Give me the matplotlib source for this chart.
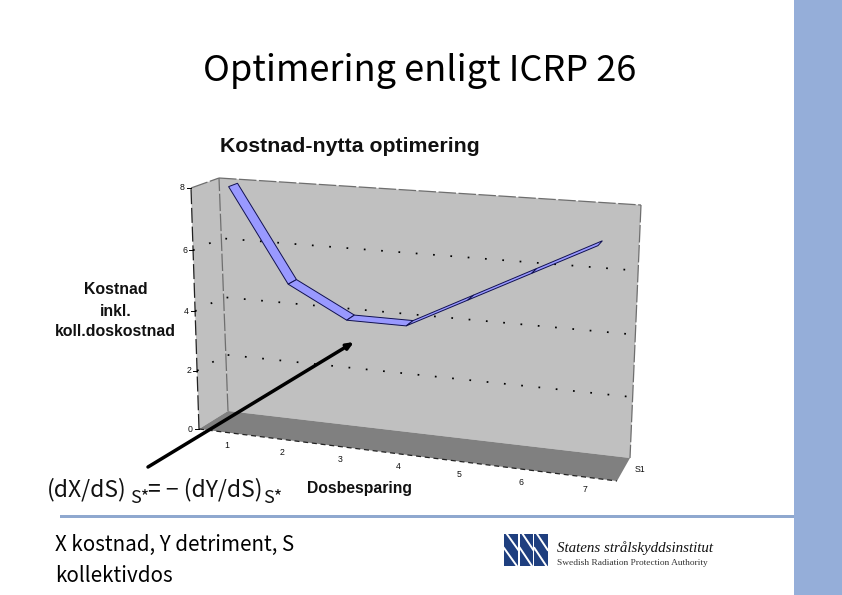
import numpy as np
import matplotlib
matplotlib.use("Agg")
import matplotlib.pyplot as plt
from matplotlib.patches import Polygon, Rectangle

categories = [1, 2, 3, 4, 5, 6, 7]
values = [8, 5, 4, 4, 5, 6, 7]
y_ticks = [0, 2, 4, 6, 8]
series_name = "S1"
Y_MAX = 8

GOTHIC = "Noto Sans CJK JP"
SANS = "Liberation Sans"
SERIF = "Liberation Serif"


def homography(quad):
    """Unit square -> (bl, br, tr, tl) pixel quad."""
    src = [(0, 0), (1, 0), (1, 1), (0, 1)]
    A, b = [], []
    for (u, v), (x, y) in zip(src, quad):
        A.append([u, v, 1, 0, 0, 0, -u * x, -v * x]); b.append(x)
        A.append([0, 0, 0, u, v, 1, -u * y, -v * y]); b.append(y)
    h = np.linalg.solve(np.array(A, float), np.array(b, float))
    return np.append(h, 1).reshape(3, 3)


H_FRONT = homography([(199, 429), (617, 481), (629, 219), (191, 188)])
H_BACK = homography([(228, 411), (630, 458), (641, 205), (219, 178)])


def project(cat, val, depth):
    """Category position (0.5..n+0.5), value, depth (0 front..1 back) -> pixel."""
    u = (cat - 0.5) / len(categories)
    v = val / Y_MAX
    pts = []
    for H in (H_FRONT, H_BACK):
        p = H @ np.array([u, v, 1.0])
        pts.append(p[:2] / p[2])
    return tuple(pts[0] * (1 - depth) + pts[1] * depth)


fig = plt.figure(figsize=(8.42, 5.95), dpi=100, facecolor="white")
ax = fig.add_axes([0, 0, 1, 1])
ax.set_xlim(0, 842)
ax.set_ylim(595, 0)
ax.axis("off")

# Slide furniture
ax.add_patch(Rectangle((794, 0), 48, 595, fc="#95AED9", ec="none"))
ax.add_patch(Rectangle((60, 514.5), 734, 3.5, fc="#8FA8CF", ec="none"))

L, R = 0.5, len(categories) + 0.5
# Walls and floor
ax.add_patch(Polygon([project(L, 0, 1), project(R, 0, 1), project(R, Y_MAX, 1), project(L, Y_MAX, 1)],
                     fc="#C0C0C0", ec="none", zorder=1))
ax.add_patch(Polygon([project(L, 0, 0), project(L, 0, 1), project(L, Y_MAX, 1), project(L, Y_MAX, 0)],
                     fc="#C0C0C0", ec="none", zorder=1))
ax.add_patch(Polygon([project(L, 0, 0), project(R, 0, 0), project(R, 0, 1), project(L, 0, 1)],
                     fc="#808080", ec="none", zorder=1))


def seg(a, b, **kw):
    ax.plot([a[0], b[0]], [a[1], b[1]], solid_capstyle="butt", **kw)


dash = dict(color="#6E6E6E", lw=0.9, ls=(0, (14, 2)), zorder=2)
seg(project(L, 0, 1), project(L, Y_MAX, 1), **dash)
seg(project(L, Y_MAX, 0), project(L, Y_MAX, 1), **dash)
seg(project(L, Y_MAX, 1), project(R, Y_MAX, 1), **dash)
seg(project(R, Y_MAX, 1), project(R, 0, 1), **dash)
seg(project(L, 0, 0), project(L, Y_MAX, 0), color="#222222", lw=0.9, ls=(0, (12, 3)), zorder=2)
seg(project(L, 0, 0), project(R, 0, 0), color="#222222", lw=0.9, ls=(0, (4, 3)), zorder=2)

# Gridlines
for t in y_ticks[1:-1]:
    a, b, c = project(L, t, 0), project(L, t, 1), project(R, t, 1)
    ax.plot([a[0], b[0], c[0]], [a[1], b[1], c[1]], color="black", lw=1.25,
            ls=(0, (1, 9)), zorder=2)

# Ribbon
Z0, Z1 = 0.33, 0.66
for i in range(len(categories) - 1):
    c0, c1 = categories[i], categories[i + 1]
    v0, v1 = values[i], values[i + 1]
    ax.add_patch(Polygon([project(c0, v0, Z0), project(c1, v1, Z0),
                          project(c1, v1, Z1), project(c0, v0, Z1)],
                         fc="#9999FF", ec="#101050", lw=0.7, zorder=3))

# Tick labels
for t in y_ticks:
    x, y = project(L, t, 0)
    ax.text(x - 6, y, str(t), fontsize=6.3, family=SANS, ha="right", va="center", color="#111111", zorder=5)
    ax.plot([x - 4, x], [y, y], color="black", lw=0.7, zorder=2)
for c in categories:
    x, y = project(c, 0, 0)
    ax.text(x, y + 13, str(c), fontsize=6.3, family=SANS, ha="center", va="center", color="#111111", zorder=5)
ax.text(640, 469, series_name, fontsize=6.3, family=SANS, ha="center", va="center", color="#111111")

# Titles
ax.text(420, 71, "Optimering enligt ICRP 26", fontsize=26, family=GOTHIC, ha="center", va="center", color="black")
ax.text(350, 146.5, "Kostnad-nytta optimering", fontsize=15.3, family=SANS, weight="bold", ha="center", va="center", color="#111111")
for line, yy in zip(["Kostnad", "inkl.", "koll.doskostnad"], [290, 311, 331]):
    ax.text(115.5, yy, line, fontsize=11.4, family=SANS, weight="bold", ha="center", va="center", color="#111111")
ax.text(359.5, 488.5, "Dosbesparing", fontsize=11.3, family=SANS, weight="bold", ha="center", va="center", color="#111111")

# Arrow
ax.annotate("", xy=(354, 342), xytext=(148, 467), zorder=6,
            arrowprops=dict(arrowstyle="-|>,head_length=0.4,head_width=0.17", color="black", lw=2.5,
                            shrinkA=0, shrinkB=0))

# Formula
for s, x, yy, fs in [("(dX/dS)", 47, 490, 16.5), ("S*", 130, 498, 13),
                     ("= − (dY/dS)", 148, 490, 16.5), ("S*", 263, 498, 13)]:
    ax.text(x, yy, s, fontsize=fs, family=GOTHIC, ha="left", va="center", color="#111111")
ax.text(55, 545, "X kostnad, Y detriment, S", fontsize=14.8, family=GOTHIC, ha="left", va="center", color="black")
ax.text(55, 575.5, "kollektivdos", fontsize=14.8, family=GOTHIC, ha="left", va="center", color="black")

# Logo
NAVY = "#1F3F7F"
for x0, x1 in [(504, 518.3), (520, 533.3), (534.4, 547.7)]:
    ax.add_patch(Rectangle((x0, 534), x1 - x0, 32, fc=NAVY, ec="none", zorder=2))
    for off in (-4, 14):
        ax.plot([x0, x1], [534 + off, 534 + off + 20], color="white", lw=1.4, zorder=3,
                clip_path=Rectangle((x0, 534), x1 - x0, 32, transform=ax.transData))
ax.text(557, 548.5, "Statens strålskyddsinstitut", fontsize=10.8, family=SERIF, style="italic", ha="left", va="center", color="#111111")
ax.text(557, 563, "Swedish Radiation Protection Authority", fontsize=6.75, family=SERIF, ha="left", va="center", color="#333333")

fig.savefig("out.png", dpi=100, facecolor="white")
